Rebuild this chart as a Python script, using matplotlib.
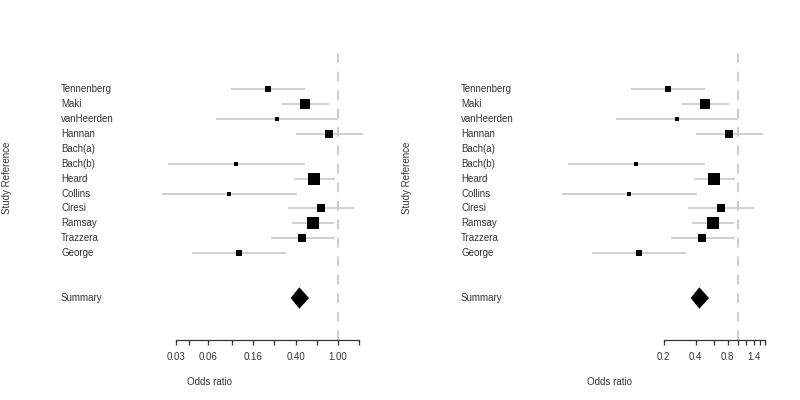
import numpy as np
import matplotlib
matplotlib.use("Agg")
import matplotlib.pyplot as plt
from matplotlib.transforms import blended_transform_factory

plt.rcParams['font.family'] = ['Liberation Sans', 'DejaVu Sans']

# study data (odds ratio, 95% CI, relative weight)
studies = ["Tennenberg", "Maki", "vanHeerden", "Hannan", "Bach(a)", "Bach(b)",
           "Heard", "Collins", "Ciresi", "Ramsay", "Trazzera", "George"]
odds = [0.218, 0.49, 0.265, 0.82, np.nan, 0.111, 0.599, 0.095, 0.692, 0.578, 0.462, 0.118]
lower = [0.098, 0.296, 0.072, 0.40, np.nan, 0.0254, 0.386, 0.0223, 0.339, 0.372, 0.233, 0.0427]
upper = [0.493, 0.823, 0.99, 1.73, np.nan, 0.493, 0.943, 0.412, 1.405, 0.911, 0.931, 0.327]
weights = [6.7, 9.6, 4.6, 7.6, np.nan, 4.0, 11.2, 4.0, 7.3, 11.2, 8.0, 5.5]

summary_or = 0.433
summary_lo = 0.359
summary_hi = 0.534

left_ticks = [0.03, 0.04, 0.06, 0.10, 0.16, 0.25, 0.40, 0.63, 1.00, 1.58]
left_labels = ["0.03", "", "0.06", "", "0.16", "", "0.40", "", "1.00", ""]
right_ticks = [0.2, 0.4, 0.6, 0.8, 1.0, 1.2, 1.4, 1.6, 1.8]
right_labels = ["0.2", "0.4", "", "0.8", "", "", "1.4", "", ""]

W, H = 800, 400
fig = plt.figure(figsize=(8, 4), dpi=100)

# pixel geometry of one panel
ppl = 46.2          # pixels per ln unit
x_one = 338         # pixel of OR = 1
ax_l, ax_r = 150, 370
ax_top, ax_bot = 50, 340
row0, drow = 89, 14.93

xlim = (np.exp((ax_l - x_one) / ppl), np.exp((ax_r - x_one) / ppl))
ylim = (1 + (ax_bot - row0) / drow, 1 + (ax_top - row0) / drow)

panels = [(0, left_ticks, left_labels), (400, right_ticks, right_labels)]
rows = np.arange(1, len(studies) + 1)
sum_row = len(studies) + 3

for off, ticks, labels in panels:
    ax = fig.add_axes([(off + ax_l) / W, (H - ax_bot) / H,
                       (ax_r - ax_l) / W, (ax_bot - ax_top) / H])
    ax.set_xscale("log")
    ax.set_xlim(xlim)
    ax.set_ylim(ylim)

    ax.axvline(1.0, color="#cccccc", lw=1.4, dashes=(5, 4.5), zorder=0)

    for r, o, lo, hi, w in zip(rows, odds, lower, upper, weights):
        if np.isnan(o):
            continue
        ax.plot([lo, hi], [r, r], color="#c4c4c4", lw=1.1, solid_capstyle="butt", zorder=1)
        ax.plot(o, r, marker="s", color="black", markersize=w * 0.72, mew=0, zorder=2)

    # summary diamond
    dh = 0.72
    ax.fill([summary_lo, summary_or, summary_hi, summary_or],
            [sum_row, sum_row - dh, sum_row, sum_row + dh], color="black", lw=0)

    for s in ["top", "left", "right"]:
        ax.spines[s].set_visible(False)
    ax.spines["bottom"].set_bounds(ticks[0], ticks[-1])
    ax.spines["bottom"].set_color("#333333")
    ax.spines["bottom"].set_linewidth(0.9)
    ax.set_yticks([])
    ax.set_xticks(ticks)
    ax.set_xticklabels(labels)
    ax.minorticks_off()
    ax.xaxis.set_minor_locator(matplotlib.ticker.NullLocator())
    ax.tick_params(axis="x", direction="out", length=3.8, width=0.9, color="#333333",
                   labelsize=7, labelcolor="#333333", pad=4.5)

    trans = blended_transform_factory(fig.transFigure, ax.transData)
    for r, name in zip(rows, studies):
        ax.text((off + 61) / W, r, name, transform=trans, fontsize=7,
                color="#333333", va="center", ha="left")
    ax.text((off + 61) / W, sum_row, "Summary", transform=trans, fontsize=7,
            color="#333333", va="center", ha="left")

    fig.text((off + 187) / W, 1 - 382 / H, "Odds ratio", fontsize=7,
             color="#333333", va="center", ha="left")
    fig.text((off + 7) / W, 1 - 178 / H, "Study Reference", fontsize=7,
             color="#333333", va="center", ha="center", rotation=90)

fig.savefig("out.png", dpi=100, facecolor="white")
